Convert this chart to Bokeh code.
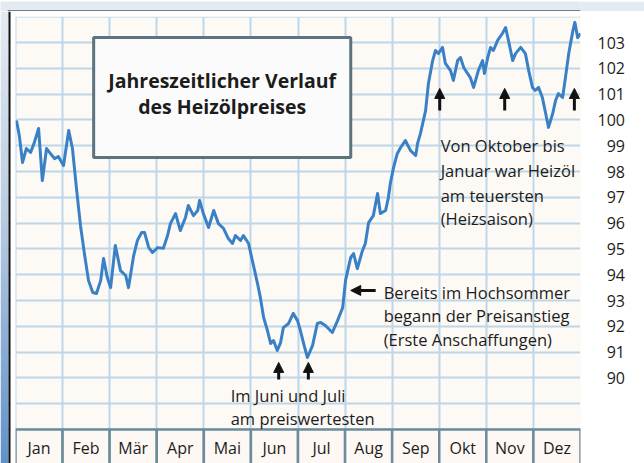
import numpy as np
from bokeh.plotting import figure
from bokeh.layouts import column
from bokeh.models import (Range1d, LinearAxis, FixedTicker, Grid, BoxAnnotation,
                          Label, Arrow, NormalHead, ColumnDataSource)
from bokeh.embed import file_html
from bokeh.resources import INLINE
from bokeh.core.properties import value

# ---------------- data ----------------
months = ["Jan", "Feb", "Mär", "Apr", "Mai", "Jun", "Jul", "Aug", "Sep", "Okt", "Nov", "Dez"]

# position in the year, in months (0 = start of January, 12 = end of December)
month_pos = [
    0.02, 0.08, 0.15, 0.23, 0.32, 0.40, 0.49, 0.57, 0.66, 0.74,
    0.83, 0.91, 1.02, 1.13, 1.21, 1.30, 1.38, 1.47, 1.55, 1.64,
    1.72, 1.81, 1.87, 1.95, 2.02, 2.12, 2.23, 2.34, 2.40, 2.51,
    2.59, 2.68, 2.74, 2.83, 2.91, 3.02, 3.14, 3.23, 3.29, 3.40,
    3.50, 3.61, 3.67, 3.78, 3.87, 3.91, 3.99, 4.10, 4.21, 4.31,
    4.42, 4.52, 4.61, 4.67, 4.78, 4.84, 4.95, 5.03, 5.14, 5.20,
    5.27, 5.35, 5.42, 5.48, 5.56, 5.63, 5.69, 5.80, 5.90, 5.99,
    6.05, 6.12, 6.20, 6.31, 6.41, 6.48, 6.58, 6.73, 6.84, 6.95,
    7.01, 7.12, 7.18, 7.26, 7.37, 7.43, 7.50, 7.60, 7.69, 7.75,
    7.86, 7.92, 7.96, 8.03, 8.11, 8.18, 8.28, 8.39, 8.50, 8.54,
    8.60, 8.71, 8.77, 8.86, 8.92, 8.98, 9.07, 9.13, 9.24, 9.30,
    9.39, 9.45, 9.52, 9.60, 9.66, 9.73, 9.83, 9.92, 9.96, 10.03,
    10.09, 10.15, 10.24, 10.34, 10.41, 10.47, 10.56, 10.62, 10.73, 10.83,
    10.90, 10.98, 11.04, 11.11, 11.19, 11.30, 11.32, 11.41, 11.47, 11.53,
    11.62, 11.68, 11.75, 11.84, 11.88, 11.94, 12.00,
]

price = [
    99.98, 99.40, 98.35, 98.89, 98.74, 99.12, 99.67, 97.65, 98.89, 98.70,
    98.50, 98.58, 98.23, 99.59, 98.89, 97.26, 95.91, 94.74, 93.78, 93.31,
    93.27, 93.78, 94.63, 93.89, 93.50, 95.13, 94.16, 93.97, 93.50, 94.74,
    95.33, 95.64, 95.64, 95.05, 94.86, 95.05, 95.02, 95.52, 95.98, 96.37,
    95.71, 96.22, 96.68, 96.29, 96.49, 96.88, 96.37, 95.83, 96.49, 95.98,
    95.79, 95.40, 95.21, 95.52, 95.33, 95.52, 95.21, 94.55, 93.66, 93.12,
    92.34, 91.84, 91.33, 91.45, 91.06, 91.37, 91.95, 92.11, 92.50, 92.22,
    91.84, 91.33, 90.79, 91.26, 92.11, 92.15, 92.03, 91.76, 92.22, 92.73,
    93.78, 94.67, 94.82, 94.24, 94.94, 95.21, 96.02, 96.29, 97.15, 96.37,
    96.49, 96.99, 97.53, 98.16, 98.70, 98.93, 99.20, 98.81, 98.62, 99.09,
    99.47, 100.36, 101.41, 102.30, 102.69, 102.57, 102.81, 102.19, 101.91, 101.53,
    102.30, 102.42, 102.03, 101.80, 101.64, 101.26, 101.91, 102.30, 101.80, 102.42,
    102.81, 102.69, 103.08, 103.35, 103.58, 103.08, 102.30, 102.57, 102.81, 102.57,
    101.91, 101.26, 101.14, 101.26, 100.87, 99.90, 99.71, 100.25, 100.75, 101.02,
    100.87, 101.64, 102.57, 103.47, 103.78, 103.19, 103.35,
]

price_ticks = list(range(90, 104))
price_tick_labels = [str(v) if v >= 100 else "\u2007" + str(v) for v in price_ticks]
grid_rows = list(range(88, 105))

title_lines = ["Jahreszeitlicher Verlauf", "des Heizölpreises"]
note_winter = ["Von Oktober bis", "Januar war Heizöl", "am teuersten", "(Heizsaison)"]
note_summer = ["Bereits im Hochsommer", "begann der Preisanstieg", "(Erste Anschaffungen)"]
note_low = ["Im Juni und Juli", "am preiswertesten"]

FONT = "Open Sans"
INK = "#1c1c1c"
FRAME_INK = "#111111"
PAGE_TOP = "#e4eaf1"
MONTH_FILL = "#fdf8f4"
MONTH_LINE = "#6c8c9b"

# ---------------- thin top strip (page band + outer frame line) ----------------
top = figure(width=644, height=11, output_backend="svg", toolbar_location=None, title=None,
             x_range=Range1d(0, 644), y_range=Range1d(0, 11),
             x_axis_location=None, y_axis_location=None, min_border=0,
             background_fill_color=PAGE_TOP, border_fill_color=PAGE_TOP,
             outline_line_color=None)
for g in list(top.grid):
    g.visible = False
top.add_layout(BoxAnnotation(left=8, top=2, fill_color=FRAME_INK, fill_alpha=1.0,
                             line_color=None))

# ---------------- main figure ----------------
X0, Y0, Y1 = -0.3186, 86.682, 104.202
p = figure(width=644, height=452, output_backend="svg", toolbar_location=None,
           title=None, x_range=Range1d(X0, 12), y_range=Range1d(Y0, Y1),
           x_axis_location=None, y_axis_location=None,
           min_border_left=0, min_border_top=0, min_border_bottom=0, min_border_right=64,
           background_fill_color="#fdf9f5", border_fill_color="white",
           outline_line_color=None)
for g in list(p.grid):
    g.visible = False

p.add_layout(Grid(dimension=0, ticker=FixedTicker(ticks=list(range(13))),
                  grid_line_color="#bdd6e8", grid_line_width=2, level="image"), "center")
p.add_layout(Grid(dimension=1, ticker=FixedTicker(ticks=grid_rows),
                  grid_line_color="#bdd6e8", grid_line_width=2, level="image"), "center")

yax = LinearAxis(ticker=FixedTicker(ticks=price_ticks),
                 major_label_overrides=dict(zip(price_ticks, price_tick_labels)),
                 axis_line_color=None, major_tick_line_color=None, minor_tick_line_color=None,
                 major_tick_in=0, major_tick_out=0, major_label_standoff=17,
                 major_label_text_font=FONT, major_label_text_font_size="16px",
                 major_label_text_color=INK)
p.add_layout(yax, "right")

# page decoration on the left: blue gradient band, frame line, white margin
nrows = 226
band = np.zeros((nrows, 1), dtype=np.uint32)
bview = band.view(dtype=np.uint8).reshape((nrows, 1, 4))
stops = [(0.0, (96, 146, 202)), (0.55, (185, 204, 225)), (1.0, (228, 234, 241))]
for i in range(nrows):
    f = i / (nrows - 1)
    for (f0, c0), (f1, c1) in zip(stops[:-1], stops[1:]):
        if f0 <= f <= f1:
            t = (f - f0) / (f1 - f0)
            bview[i, 0, :3] = [round(a + (b - a) * t) for a, b in zip(c0, c1)]
    bview[i, 0, 3] = 255
p.image_rgba(image=[band], x=X0, y=Y0, dw=-0.1487 - X0, dh=Y1 - Y0)

p.add_layout(BoxAnnotation(left=-0.1062, bottom=104.0, fill_color="white", fill_alpha=1.0,
                           line_color=None))
p.add_layout(BoxAnnotation(left=-0.1062, right=0.0, fill_color="white", fill_alpha=1.0,
                           line_color=None))
p.add_layout(BoxAnnotation(left=-0.1487, right=-0.1062, fill_color=FRAME_INK, fill_alpha=1.0,
                           line_color=None))

# month row
msrc = ColumnDataSource(dict(left=list(range(12)), right=[i + 1 for i in range(12)],
                             mid=[i + 0.5 for i in range(12)], label=months))
p.quad(left="left", right="right", bottom=86.0, top=88.0, source=msrc,
       fill_color=MONTH_FILL, line_color=MONTH_LINE, line_width=2.5)
p.text(x="mid", y=87.3, text="label", source=msrc, text_font=value(FONT),
       text_font_size="16px", text_align="center", text_baseline="middle", text_color=INK)

# price line
p.line(month_pos, price, line_color="#3a80c6", line_width=3, line_join="round")

# title box
p.add_layout(BoxAnnotation(left=1.66, right=7.12, bottom=98.54, top=103.19,
                           fill_color="#fbfbfb", fill_alpha=1.0,
                           line_color="#5d737e", line_alpha=1.0, line_width=3))
for txt, yy in zip(title_lines, [101.53, 100.52]):
    p.add_layout(Label(x=4.39, y=yy, text=txt, text_font=FONT, text_font_style="bold",
                       text_font_size="19.5px", text_align="center", text_baseline="middle",
                       text_color=INK))

# notes
for txt, yy in zip(note_winter, [99.01, 98.04, 97.07, 96.18]):
    p.add_layout(Label(x=9.03, y=yy, text=txt, text_font=FONT, text_font_size="16.5px",
                       text_align="left", text_baseline="middle", text_color=INK))
for txt, yy in zip(note_summer, [93.31, 92.40, 91.49]):
    p.add_layout(Label(x=7.82, y=yy, text=txt, text_font=FONT, text_font_size="16.5px",
                       text_align="left", text_baseline="middle", text_color=INK))
for txt, yy in zip(note_low, [89.32, 88.43]):
    p.add_layout(Label(x=4.57, y=yy, text=txt, text_font=FONT, text_font_size="16.5px",
                       text_align="left", text_baseline="middle", text_color=INK))

# arrows
def arrow(x0, y0, x1, y1):
    p.add_layout(Arrow(end=NormalHead(size=10, fill_color=FRAME_INK, line_color=FRAME_INK),
                       x_start=x0, y_start=y0, x_end=x1, y_end=y1,
                       line_width=3, line_color=FRAME_INK))

for xa in [5.59, 6.22]:
    arrow(xa, 89.94, xa, 90.60)
for xa in [9.01, 10.39, 11.87]:
    arrow(xa, 100.36, xa, 101.22)
arrow(7.65, 93.39, 7.12, 93.39)

layout = column(top, p, spacing=0)
open("out.html", "w").write(file_html(layout, INLINE))
